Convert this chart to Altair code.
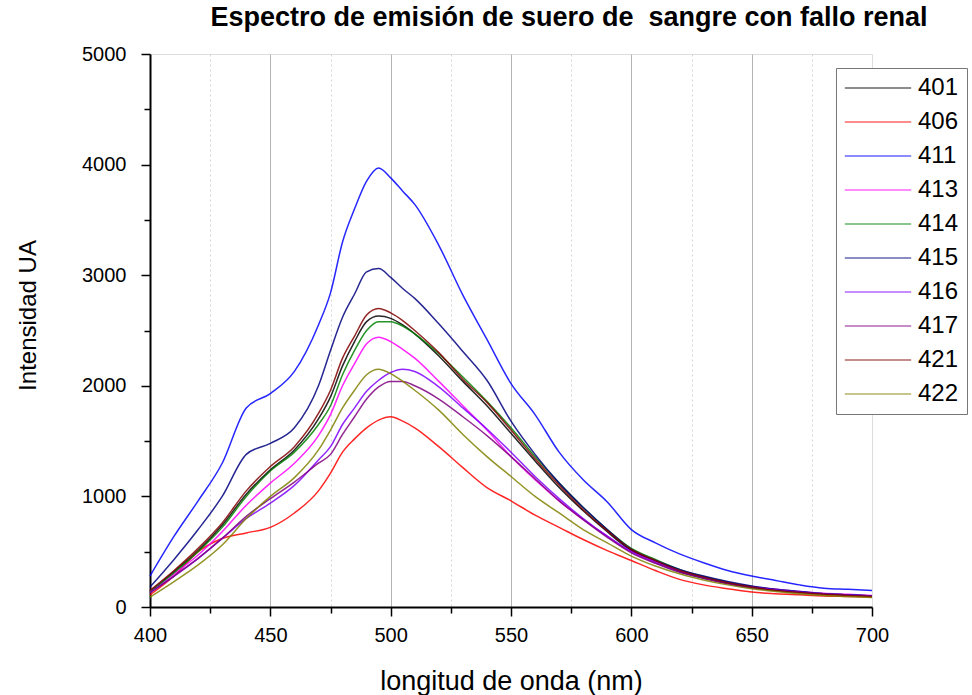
import altair as alt
import pandas as pd

wl = [400, 410, 420, 430, 440, 450, 460, 470, 475, 480, 485, 490, 495, 500, 505, 510,
      520, 530, 540, 550, 560, 570, 580, 590, 600, 610, 620, 630, 640, 650, 660, 670,
      680, 690, 700]

series_names = ["401", "406", "411", "413", "414", "415", "416", "417", "421", "422"]
series_colors = ["#000000", "#FF0000", "#0000FF", "#FF00FF", "#008000",
                 "#000080", "#8000FF", "#800080", "#800000", "#808000"]

s401 = [140, 320, 510, 740, 1020, 1240, 1420, 1700, 1900, 2180, 2400, 2580, 2630, 2610, 2550, 2470,
        2270, 2040, 1820, 1570, 1320, 1080, 870, 680, 510, 410, 320, 260, 215, 175, 150, 130,
        115, 105, 95]
s406 = [110, 280, 500, 620, 670, 720, 850, 1050, 1210, 1400, 1520, 1620, 1690, 1720, 1680, 1620,
        1450, 1260, 1080, 960, 830, 720, 610, 510, 420, 330, 250, 200, 165, 135, 120, 110,
        100, 95, 90]
s411 = [280, 640, 960, 1300, 1800, 1930, 2130, 2550, 2840, 3300, 3600, 3850, 3970, 3880, 3760, 3640,
        3270, 2820, 2420, 2020, 1740, 1400, 1150, 950, 700, 580, 480, 400, 330, 280, 240, 200,
        170, 160, 150]
s413 = [140, 300, 470, 680, 920, 1120, 1300, 1550, 1740, 2000, 2200, 2380, 2440, 2400, 2330, 2250,
        2040, 1820, 1600, 1360, 1150, 960, 790, 640, 500, 410, 330, 270, 220, 185, 160, 140,
        125, 115, 105]
s414 = [140, 310, 500, 720, 1000, 1230, 1400, 1650, 1820, 2100, 2320, 2500, 2580, 2580, 2540, 2470,
        2290, 2080, 1860, 1620, 1360, 1120, 900, 700, 530, 430, 340, 275, 225, 185, 155, 135,
        120, 110, 100]
s415 = [180, 430, 700, 1000, 1380, 1480, 1620, 2000, 2320, 2620, 2830, 3030, 3060, 2980, 2880, 2790,
        2560, 2310, 2050, 1680, 1380, 1120, 900, 700, 520, 420, 340, 280, 230, 190, 160, 140,
        120, 110, 100]
s416 = [130, 280, 440, 620, 800, 940, 1100, 1330, 1450, 1650, 1800, 1950, 2050, 2120, 2150, 2130,
        1990, 1800, 1610, 1400, 1180, 980, 800, 640, 500, 400, 320, 265, 215, 180, 155, 135,
        120, 110, 100]
s417 = [130, 280, 440, 620, 820, 980, 1130, 1300, 1380, 1560, 1720, 1880, 1990, 2040, 2040, 2000,
        1880, 1720, 1550, 1360, 1160, 960, 790, 630, 490, 395, 315, 260, 210, 175, 150, 130,
        115, 105, 95]
s421 = [150, 330, 530, 760, 1050, 1270, 1450, 1750, 1960, 2250, 2450, 2640, 2700, 2660, 2590, 2500,
        2300, 2060, 1850, 1600, 1340, 1100, 880, 690, 520, 420, 330, 270, 220, 180, 150, 130,
        115, 105, 95]
s422 = [90, 230, 380, 560, 800, 1000, 1170, 1420, 1600, 1800, 1960, 2100, 2150, 2110, 2040, 1960,
        1780, 1560, 1360, 1180, 1000, 850, 700, 580, 460, 370, 300, 245, 200, 165, 140, 120,
        105, 95, 85]

x_ticks = [400, 425, 450, 475, 500, 525, 550, 575, 600, 625, 650, 675, 700]
y_ticks = [0, 500, 1000, 1500, 2000, 2500, 3000, 3500, 4000, 4500, 5000]

all_series = [s401, s406, s411, s413, s414, s415, s416, s417, s421, s422]
rows = []
for order, (name, vals) in enumerate(zip(series_names, all_series)):
    for w, v in zip(wl, vals):
        rows.append({"wl": w, "val": v, "serie": name, "ord": order})
df = pd.DataFrame(rows)

FONT = "Liberation Sans"

x_axis = alt.Axis(
    values=x_ticks,
    labelExpr="datum.value % 50 == 0 ? datum.label : ''",
    labelFlush=False,
    title="longitud de onda (nm)",
    titleFont=FONT, titleFontSize=27, titleFontWeight="normal", titleColor="#000",
    titleY=82, titleBaseline="alphabetic",
    labelFont=FONT, labelFontSize=20, labelColor="#000", labelPadding=9,
    domainColor="#000", domainWidth=2,
    tickColor="#000", tickWidth=1.5,
    tickSize={"condition": {"test": "datum.value % 50 != 0", "value": 6}, "value": 9},
    grid=True,
    gridColor={"condition": {"test": "datum.value % 50 != 0", "value": "#d4d4d4"}, "value": "#b4b4b4"},
    gridDash={"condition": {"test": "datum.value % 50 != 0", "value": [2, 3]}, "value": []},
    gridOpacity={"condition": {"test": "datum.value == 400 || datum.value == 700", "value": 0}, "value": 1},
    gridWidth=1,
)

y_axis = alt.Axis(
    values=y_ticks,
    labelExpr="datum.value % 1000 == 0 ? datum.label : ''",
    labelFlush=False,
    format="d",
    title="Intensidad UA",
    titleFont=FONT, titleFontSize=24, titleFontWeight="normal", titleColor="#000",
    titleX=-115, titleY=261, titleBaseline="alphabetic",
    labelFont=FONT, labelFontSize=20, labelColor="#000", labelPadding=15,
    domainColor="#000", domainWidth=2,
    tickColor="#000", tickWidth=1.5,
    tickSize={"condition": {"test": "datum.value % 1000 != 0", "value": 6}, "value": 9},
    grid=False,
)

chart = alt.Chart(df).mark_line(strokeWidth=1.5, opacity=0.85, interpolate="monotone").encode(
    x=alt.X("wl:Q", scale=alt.Scale(domain=[400, 700], nice=False, zero=False), axis=x_axis),
    y=alt.Y("val:Q", scale=alt.Scale(domain=[0, 5000], nice=False), axis=y_axis),
    color=alt.Color(
        "serie:N",
        scale=alt.Scale(domain=series_names, range=series_colors),
        legend=alt.Legend(
            title=None, orient="none", legendX=686, legendY=14,
            symbolType="stroke", symbolSize=4400, symbolStrokeWidth=1.5, symbolOpacity=0.6,
            labelFont=FONT, labelFontSize=24, labelColor="#000", labelOffset=6,
            clipHeight=24, rowPadding=10, padding=8, strokeColor="#777", fillColor="#fff",
        ),
    ),
    order=alt.Order("ord:Q"),
    detail="serie:N",
).properties(
    width=722,
    height=553,
    autosize=alt.AutoSizeParams(type="none"),
    padding={"left": 150, "top": 54, "right": 100, "bottom": 88},
    title=alt.TitleParams(
        text="Espectro de emisión de suero de\u00a0 sangre con fallo renal",
        font=FONT, fontSize=27, fontWeight="bold", color="#000",
        anchor="middle", frame="group", dx=58, dy=21, offset=12, baseline="alphabetic",
    ),
).configure_view(stroke=None).configure(background="white")

chart.save("out.html", embed_options={"renderer": "svg", "actions": False})
